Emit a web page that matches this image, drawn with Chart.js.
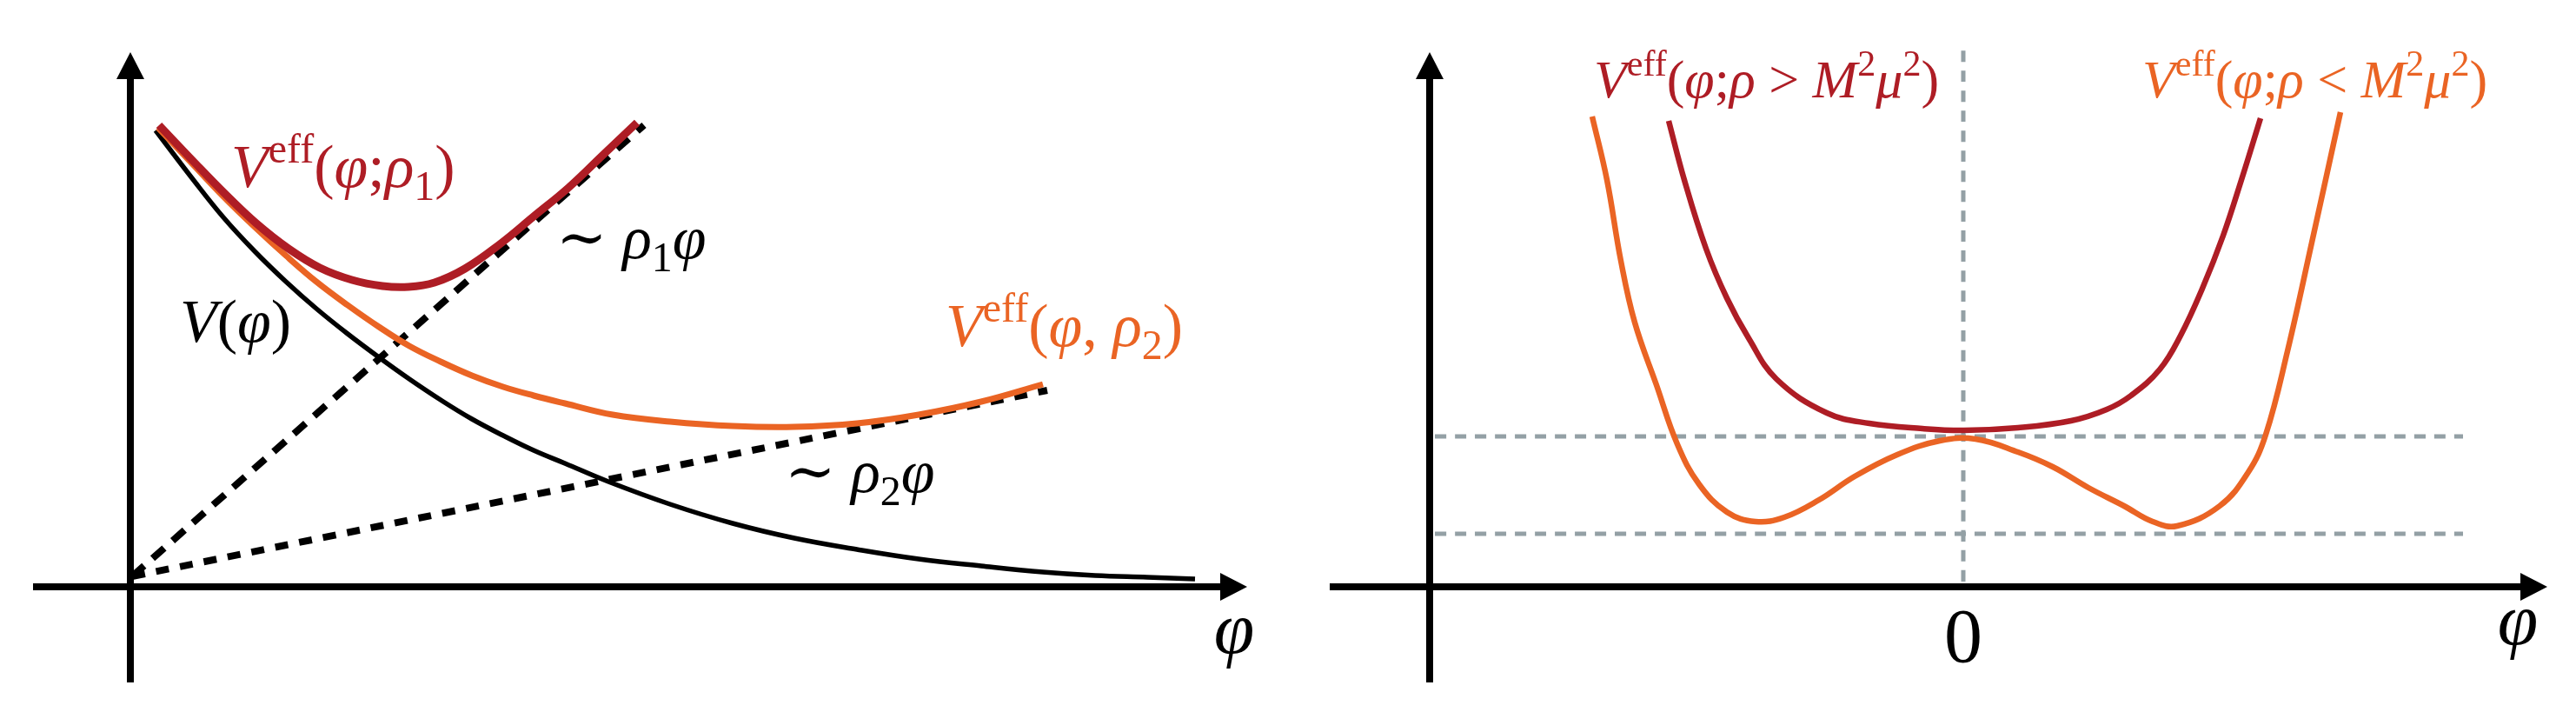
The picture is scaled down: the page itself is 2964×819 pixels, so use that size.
<!DOCTYPE html>
<html>
<head>
<meta charset="utf-8">
<script src="https://cdn.jsdelivr.net/npm/chart.js@4.4.1/dist/chart.umd.min.js"></script>
<style>
  html, body { margin: 0; padding: 0; background: #fff; }
  #wrap { position: relative; width: 2964px; height: 819px; }
  canvas { position: absolute; top: 0; }
  #left { left: 0; }
  #right { left: 1482px; }
</style>
</head>
<body>
<div id="wrap">
  <canvas id="left" width="1482" height="819"></canvas>
  <canvas id="right" width="1482" height="819"></canvas>
</div>
<script>
// left panel: bare potential V(phi) and two effective potentials
const potX  = [0.29, 0.71, 1.07, 1.43, 1.79, 2.14, 2.50, 2.86, 3.21, 3.57, 3.93, 4.29, 4.64, 5.00, 5.50, 6.21, 6.93, 7.64, 8.36, 9.07, 9.79, 10.50, 11.10, 11.70, 12.25];
const potY  = [5.25, 4.70, 4.25, 3.86, 3.51, 3.20, 2.91, 2.64, 2.39, 2.15, 1.93, 1.74, 1.57, 1.42, 1.21, 0.95, 0.73, 0.56, 0.43, 0.32, 0.24, 0.17, 0.13, 0.11, 0.09];

const rho1X = [0.33, 0.71, 1.08, 1.45, 1.82, 2.18, 2.55, 2.90, 3.20, 3.50, 3.85, 4.25, 4.64, 5.04, 5.43, 5.83];
const rho1Y = [5.31, 4.91, 4.53, 4.18, 3.89, 3.67, 3.53, 3.46, 3.45, 3.50, 3.66, 3.94, 4.26, 4.59, 4.96, 5.34];

const rho2X = [0.32, 0.71, 1.07, 1.43, 1.79, 2.14, 2.50, 2.86, 3.21, 3.57, 3.93, 4.29, 4.64, 5.00, 5.55, 6.21, 6.93, 7.64, 8.36, 9.07, 9.79, 10.50];
const rho2Y = [5.28, 4.87, 4.49, 4.14, 3.81, 3.51, 3.24, 2.99, 2.77, 2.59, 2.43, 2.30, 2.20, 2.11, 1.98, 1.90, 1.85, 1.84, 1.88, 1.98, 2.13, 2.33];

// asymptotes ~ rho*phi
const asym1X = [0.02, 5.91];
const asym1Y = [0.12, 5.31];
const asym2X = [0.02, 10.55];
const asym2Y = [0.12, 2.26];

// right panel: symmetric / broken effective potentials
const highX = [-3.39, -3.21, -2.96, -2.72, -2.47, -2.15, -1.57, -1.08, -0.47, 0.01, 0.63, 1.24, 1.65, 1.93, 2.26, 2.50, 2.75, 2.99, 3.20, 3.42];
const highY = [5.36, 4.68, 3.89, 3.32, 2.86, 2.39, 2.00, 1.88, 1.82, 1.80, 1.83, 1.91, 2.04, 2.20, 2.50, 2.89, 3.43, 4.04, 4.68, 5.39];

const lowX = [-4.27, -4.10, -3.94, -3.78, -3.53, -3.29, -3.04, -2.72, -2.39, -2.06, -1.66, -1.25, -0.76, -0.27, 0.14, 0.63, 1.03, 1.44, 1.85, 2.18, 2.46, 2.95, 3.28, 3.48, 3.73, 4.01, 4.34];
const lowY = [5.41, 4.68, 3.75, 3.04, 2.32, 1.64, 1.18, 0.86, 0.75, 0.80, 1.00, 1.27, 1.52, 1.68, 1.70, 1.55, 1.38, 1.14, 0.93, 0.75, 0.70, 0.93, 1.32, 1.75, 2.71, 3.96, 5.46];

// gray guide lines
const guideLevels = [1.73, 0.61];
const guideSpan   = [-6.08, 5.75];
const zeroLineY   = [0.06, 6.23];

const RED = '#ae1d25';
const ORANGE = '#ea6424';
const GRAY = '#93a0a5';
const SERIF = '"Liberation Serif", "Times New Roman", "DejaVu Serif", serif';

const pts = (xs, ys) => xs.map((x, i) => ({ x: x, y: ys[i] }));

function curve(xs, ys, color, width, dash) {
  return {
    data: pts(xs, ys),
    borderColor: color,
    borderWidth: width,
    borderDash: dash || [],
    borderCapStyle: 'butt',
    borderJoinStyle: 'round',
    pointRadius: 0,
    showLine: true,
    fill: false,
    tension: 0.4
  };
}

// text with super/subscripts, runs = [text, kind]
function drawRich(ctx, x, y, runs, size, color, align) {
  const parts = runs.map(([txt, kind]) => {
    let s = size, dy = 0, style = '';
    if (kind === 'i') style = 'italic ';
    if (kind === 'sup') { s = size * 0.68; dy = -size * 0.40; }
    if (kind === 'sub') { s = size * 0.68; dy = size * 0.22; }
    const font = style + Math.round(s) + 'px ' + SERIF;
    ctx.font = font;
    return { txt, font, dy, w: ctx.measureText(txt).width };
  });
  const total = parts.reduce((a, p) => a + p.w, 0);
  let cx = align === 'center' ? x - total / 2 : x;
  ctx.fillStyle = color;
  ctx.textBaseline = 'alphabetic';
  ctx.textAlign = 'left';
  parts.forEach(p => {
    ctx.font = p.font;
    ctx.fillText(p.txt, cx, y + p.dy);
    cx += p.w;
  });
}

function overlay(axis, labels) {
  return {
    id: 'overlay',
    afterDatasetsDraw(chart) {
      const { ctx, scales: { x, y } } = chart;
      ctx.save();
      ctx.strokeStyle = '#000';
      ctx.fillStyle = '#000';
      ctx.lineWidth = 8;
      const yA = y.getPixelForValue(0);
      const xL = x.getPixelForValue(axis.xFrom);
      const xR = x.getPixelForValue(axis.xTo);
      const xA = x.getPixelForValue(axis.yAt);
      const yB = y.getPixelForValue(axis.yFrom);
      const yT = y.getPixelForValue(axis.yTo);
      ctx.beginPath();
      ctx.moveTo(xL, yA); ctx.lineTo(xR - 20, yA);
      ctx.moveTo(xA, yB); ctx.lineTo(xA, yT + 20);
      ctx.stroke();
      ctx.beginPath();
      ctx.moveTo(xR, yA); ctx.lineTo(xR - 31, yA - 16); ctx.lineTo(xR - 31, yA + 16); ctx.closePath();
      ctx.moveTo(xA, yT); ctx.lineTo(xA - 16, yT + 31); ctx.lineTo(xA + 16, yT + 31); ctx.closePath();
      ctx.fill();
      labels.forEach(l => {
        drawRich(ctx, x.getPixelForValue(l.x), y.getPixelForValue(l.y), l.runs, l.size, l.color || '#000', l.align);
      });
      ctx.restore();
    }
  };
}

function baseOptions(xmin, xmax) {
  return {
    responsive: false,
    animation: false,
    devicePixelRatio: 1,
    layout: { padding: 0 },
    plugins: { legend: { display: false }, tooltip: { enabled: false } },
    scales: {
      x: { type: 'linear', min: xmin, max: xmax, display: false },
      y: { type: 'linear', min: -1.44, max: 6.75, display: false }
    }
  };
}

new Chart(document.getElementById('left'), {
  type: 'scatter',
  data: {
    datasets: [
      curve(rho1X, rho1Y, RED, 9),
      curve(rho2X, rho2Y, ORANGE, 7),
      curve(potX, potY, '#000', 5.5),
      curve(asym1X, asym1Y, '#000', 8, [18, 13]),
      curve(asym2X, asym2Y, '#000', 8, [15, 13])
    ]
  },
  options: baseOptions(-1.5, 13.32),
  plugins: [overlay(
    { xFrom: -1.12, xTo: 12.85, yAt: 0, yFrom: -1.10, yTo: 6.15 },
    [
      { x: 1.16, y: 4.60, size: 70, color: RED,
        runs: [['V', 'i'], ['eff', 'sup'], ['(', 'r'], ['φ', 'i'], [';', 'r'], ['ρ', 'i'], ['1', 'sub'], [')', 'r']] },
      { x: 4.90, y: 3.78, size: 70,
        runs: [['∼ ', 'r'], ['ρ', 'i'], ['1', 'sub'], ['φ', 'i']] },
      { x: 0.57, y: 2.82, size: 70,
        runs: [['V', 'i'], ['(', 'r'], ['φ', 'i'], [')', 'r']] },
      { x: 9.38, y: 2.77, size: 70, color: ORANGE,
        runs: [['V', 'i'], ['eff', 'sup'], ['(', 'r'], ['φ', 'i'], [', ', 'r'], ['ρ', 'i'], ['2', 'sub'], [')', 'r']] },
      { x: 7.53, y: 1.09, size: 70,
        runs: [['∼ ', 'r'], ['ρ', 'i'], ['2', 'sub'], ['φ', 'i']] },
      { x: 12.70, y: -0.76, size: 84, align: 'center', runs: [['φ', 'i']] }
    ]
  )]
});

new Chart(document.getElementById('right'), {
  type: 'scatter',
  data: {
    datasets: [
      curve(highX, highY, RED, 6.5),
      curve(lowX, lowY, ORANGE, 6.5),
      curve([0, 0], zeroLineY, GRAY, 5, [13, 10]),
      curve(guideSpan, [guideLevels[0], guideLevels[0]], GRAY, 5, [13, 10]),
      curve(guideSpan, [guideLevels[1], guideLevels[1]], GRAY, 5, [13, 10])
    ]
  },
  options: baseOptions(-7.77, 7.05),
  plugins: [overlay(
    { xFrom: -7.29, xTo: 6.72, yAt: -6.14, yFrom: -1.10, yTo: 6.15 },
    [
      { x: -4.25, y: 5.63, size: 62, color: RED,
        runs: [['V', 'i'], ['eff', 'sup'], ['(', 'r'], ['φ', 'i'], [';', 'r'], ['ρ', 'i'], [' > ', 'r'], ['M', 'i'], ['2', 'sup'], ['μ', 'i'], ['2', 'sup'], [')', 'r']] },
      { x: 2.06, y: 5.63, size: 62, color: ORANGE,
        runs: [['V', 'i'], ['eff', 'sup'], ['(', 'r'], ['φ', 'i'], [';', 'r'], ['ρ', 'i'], [' < ', 'r'], ['M', 'i'], ['2', 'sup'], ['μ', 'i'], ['2', 'sup'], [')', 'r']] },
      { x: 0, y: -0.86, size: 88, align: 'center', runs: [['0', 'r']] },
      { x: 6.38, y: -0.66, size: 84, align: 'center', runs: [['φ', 'i']] }
    ]
  )]
});
</script>
</body>
</html>
